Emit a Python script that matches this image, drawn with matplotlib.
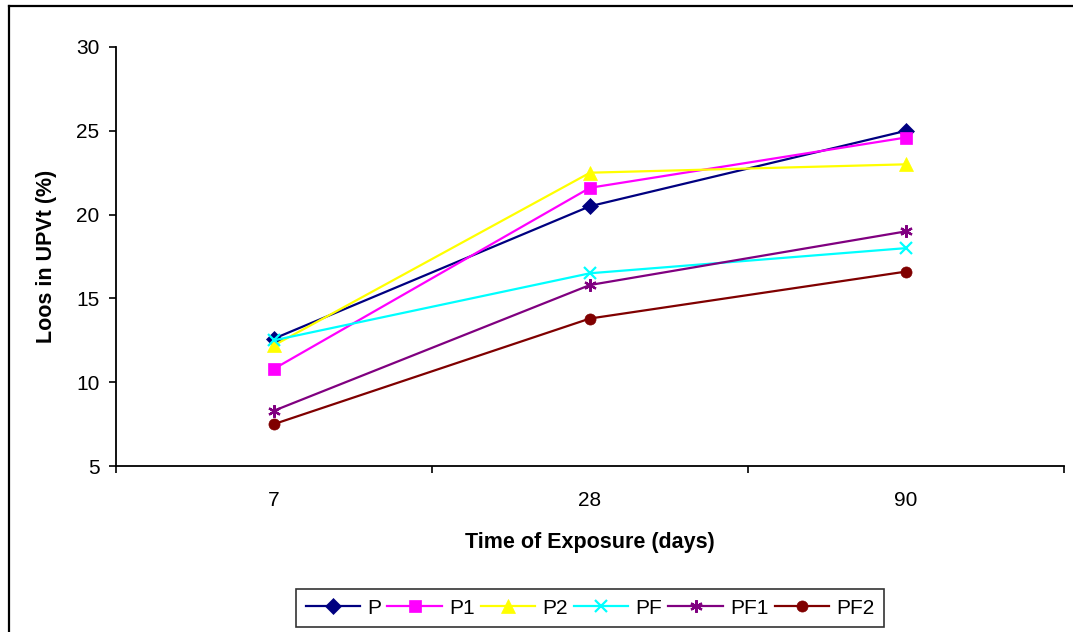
import matplotlib
matplotlib.use('Agg')
import matplotlib.pyplot as plt
from matplotlib.lines import Line2D

plt.rcParams['font.family'] = ['Liberation Sans', 'DejaVu Sans']

days = ['7', '28', '90']
P = [12.6, 20.5, 25.0]
P1 = [10.8, 21.6, 24.6]
P2 = [12.2, 22.5, 23.0]
PF = [12.5, 16.5, 18.0]
PF1 = [8.3, 15.8, 19.0]
PF2 = [7.5, 13.8, 16.6]

series = [
    ('P', P, '#000080', 'D', 8),
    ('P1', P1, '#FF00FF', 's', 8),
    ('P2', P2, '#FFFF00', '^', 10),
    ('PF', PF, '#00FFFF', 'x', 8),
    ('PF1', PF1, '#800080', (6, 2, 0), 9),
    ('PF2', PF2, '#800000', 'o', 8),
]

fig = plt.figure(figsize=(10.73, 6.32), dpi=100)
ax = fig.add_axes([116/1073, 1-466/632, (1064-116)/1073, (466-47)/632])

xpos = [i + 0.5 for i in range(len(days))]
for name, vals, col, mk, ms in series:
    ax.plot(xpos, vals, color=col, marker=mk, markersize=ms, linewidth=1.6,
            markeredgewidth=1.6 if mk in ('x', (6, 2, 0)) else 0.5,
            markeredgecolor=col, label=name)

ax.set_xlim(0, 3)
ax.set_ylim(5, 30)
ax.set_yticks([5, 10, 15, 20, 25, 30])
ax.set_xticks([0, 1, 2, 3])
ax.set_xticklabels([])
ax.set_xticks(xpos, minor=True)
ax.set_xticklabels(days, minor=True)
ax.tick_params(axis='x', which='minor', length=0, pad=18, labelsize=15)
ax.tick_params(axis='x', which='major', length=5, width=1.2, direction='out')
ax.tick_params(axis='y', length=5, width=1.2, direction='out', labelsize=15, pad=7)

ax.spines['top'].set_visible(False)
ax.spines['right'].set_visible(False)
ax.spines['left'].set_linewidth(1.3)
ax.spines['bottom'].set_linewidth(1.3)

ax.set_xlabel('Time of Exposure (days)', fontsize=15.5, fontweight='bold', labelpad=16)
ax.set_ylabel('Loos in UPVt (%)', fontsize=15.5, fontweight='bold', labelpad=14)

leg = fig.legend(loc='center', bbox_to_anchor=(590/1073, 1-608/632), ncol=6,
                 fontsize=15, frameon=True, fancybox=False, handlelength=2.6,
                 columnspacing=0.3, handletextpad=0.35, borderpad=0.45,
                 borderaxespad=0)
leg.get_frame().set_edgecolor('black')
leg.get_frame().set_linewidth(1.2)

# figure border (top and left visible)
fig.add_artist(Line2D([9/1073, 9/1073], [0, 1-6/632], transform=fig.transFigure,
                      color='black', linewidth=1.6))
fig.add_artist(Line2D([9/1073, 1], [1-6/632, 1-6/632], transform=fig.transFigure,
                      color='black', linewidth=1.6))

fig.savefig('out.png', dpi=100)
